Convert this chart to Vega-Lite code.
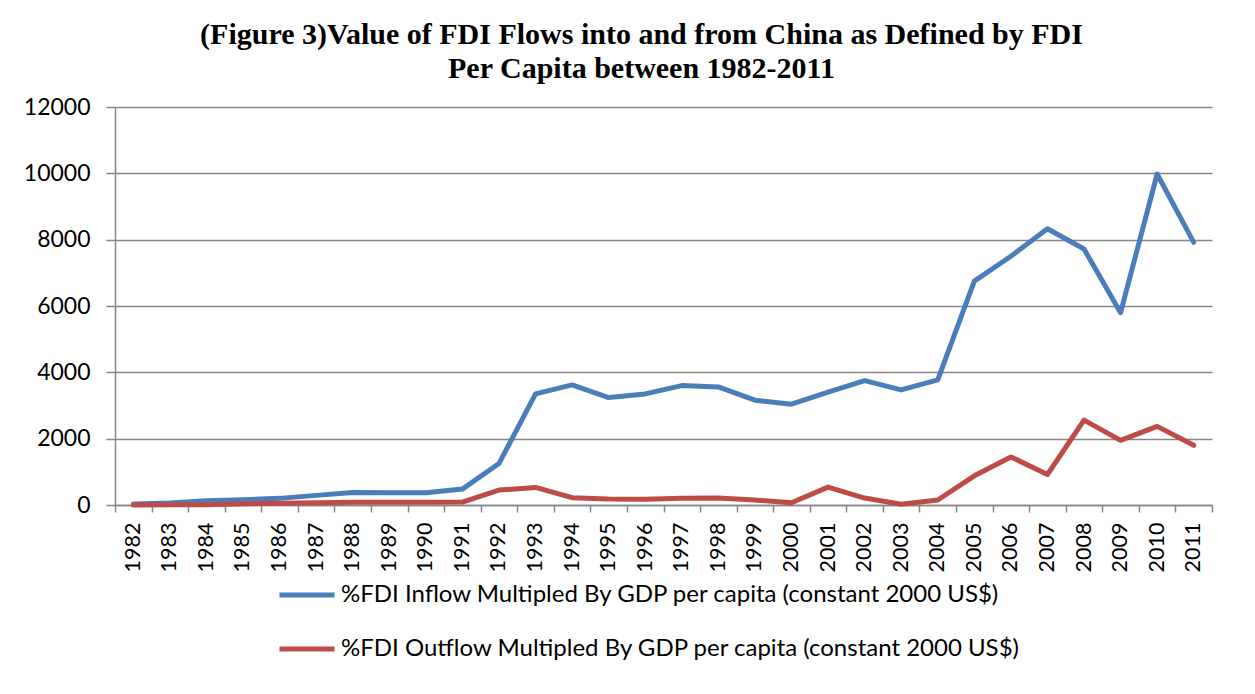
{
  "$schema": "https://vega.github.io/schema/vega-lite/v6.json",
  "autosize": "none",
  "width": 1097,
  "height": 398,
  "padding": {"left": 115, "top": 107, "right": 43, "bottom": 189},
  "background": "white",
  "title": {
    "text": ["(Figure 3)Value of  FDI Flows into and from China as Defined by FDI", "Per Capita between 1982-2011"],
    "font": "Liberation Serif",
    "fontSize": 30,
    "fontWeight": "bold",
    "color": "black",
    "lineHeight": 34,
    "anchor": "middle",
    "dx": -22,
    "offset": 12
  },
  "data": {
    "values": [
      {"year": "1982", "series": "%FDI Inflow Multipled By GDP per capita (constant 2000 US$)", "value": 30},
      {"year": "1983", "series": "%FDI Inflow Multipled By GDP per capita (constant 2000 US$)", "value": 60},
      {"year": "1984", "series": "%FDI Inflow Multipled By GDP per capita (constant 2000 US$)", "value": 130},
      {"year": "1985", "series": "%FDI Inflow Multipled By GDP per capita (constant 2000 US$)", "value": 160},
      {"year": "1986", "series": "%FDI Inflow Multipled By GDP per capita (constant 2000 US$)", "value": 200},
      {"year": "1987", "series": "%FDI Inflow Multipled By GDP per capita (constant 2000 US$)", "value": 290},
      {"year": "1988", "series": "%FDI Inflow Multipled By GDP per capita (constant 2000 US$)", "value": 380},
      {"year": "1989", "series": "%FDI Inflow Multipled By GDP per capita (constant 2000 US$)", "value": 370},
      {"year": "1990", "series": "%FDI Inflow Multipled By GDP per capita (constant 2000 US$)", "value": 370},
      {"year": "1991", "series": "%FDI Inflow Multipled By GDP per capita (constant 2000 US$)", "value": 480},
      {"year": "1992", "series": "%FDI Inflow Multipled By GDP per capita (constant 2000 US$)", "value": 1250},
      {"year": "1993", "series": "%FDI Inflow Multipled By GDP per capita (constant 2000 US$)", "value": 3350},
      {"year": "1994", "series": "%FDI Inflow Multipled By GDP per capita (constant 2000 US$)", "value": 3620},
      {"year": "1995", "series": "%FDI Inflow Multipled By GDP per capita (constant 2000 US$)", "value": 3240},
      {"year": "1996", "series": "%FDI Inflow Multipled By GDP per capita (constant 2000 US$)", "value": 3350},
      {"year": "1997", "series": "%FDI Inflow Multipled By GDP per capita (constant 2000 US$)", "value": 3600},
      {"year": "1998", "series": "%FDI Inflow Multipled By GDP per capita (constant 2000 US$)", "value": 3560},
      {"year": "1999", "series": "%FDI Inflow Multipled By GDP per capita (constant 2000 US$)", "value": 3160},
      {"year": "2000", "series": "%FDI Inflow Multipled By GDP per capita (constant 2000 US$)", "value": 3040},
      {"year": "2001", "series": "%FDI Inflow Multipled By GDP per capita (constant 2000 US$)", "value": 3400},
      {"year": "2002", "series": "%FDI Inflow Multipled By GDP per capita (constant 2000 US$)", "value": 3750},
      {"year": "2003", "series": "%FDI Inflow Multipled By GDP per capita (constant 2000 US$)", "value": 3470},
      {"year": "2004", "series": "%FDI Inflow Multipled By GDP per capita (constant 2000 US$)", "value": 3770},
      {"year": "2005", "series": "%FDI Inflow Multipled By GDP per capita (constant 2000 US$)", "value": 6750},
      {"year": "2006", "series": "%FDI Inflow Multipled By GDP per capita (constant 2000 US$)", "value": 7500},
      {"year": "2007", "series": "%FDI Inflow Multipled By GDP per capita (constant 2000 US$)", "value": 8330},
      {"year": "2008", "series": "%FDI Inflow Multipled By GDP per capita (constant 2000 US$)", "value": 7720},
      {"year": "2009", "series": "%FDI Inflow Multipled By GDP per capita (constant 2000 US$)", "value": 5800},
      {"year": "2010", "series": "%FDI Inflow Multipled By GDP per capita (constant 2000 US$)", "value": 9980},
      {"year": "2011", "series": "%FDI Inflow Multipled By GDP per capita (constant 2000 US$)", "value": 7920},
      {"year": "1982", "series": "%FDI Outflow Multipled By GDP per capita (constant 2000 US$)", "value": 0},
      {"year": "1983", "series": "%FDI Outflow Multipled By GDP per capita (constant 2000 US$)", "value": 10},
      {"year": "1984", "series": "%FDI Outflow Multipled By GDP per capita (constant 2000 US$)", "value": 10},
      {"year": "1985", "series": "%FDI Outflow Multipled By GDP per capita (constant 2000 US$)", "value": 40},
      {"year": "1986", "series": "%FDI Outflow Multipled By GDP per capita (constant 2000 US$)", "value": 50},
      {"year": "1987", "series": "%FDI Outflow Multipled By GDP per capita (constant 2000 US$)", "value": 70},
      {"year": "1988", "series": "%FDI Outflow Multipled By GDP per capita (constant 2000 US$)", "value": 80},
      {"year": "1989", "series": "%FDI Outflow Multipled By GDP per capita (constant 2000 US$)", "value": 80},
      {"year": "1990", "series": "%FDI Outflow Multipled By GDP per capita (constant 2000 US$)", "value": 80},
      {"year": "1991", "series": "%FDI Outflow Multipled By GDP per capita (constant 2000 US$)", "value": 90},
      {"year": "1992", "series": "%FDI Outflow Multipled By GDP per capita (constant 2000 US$)", "value": 450},
      {"year": "1993", "series": "%FDI Outflow Multipled By GDP per capita (constant 2000 US$)", "value": 530},
      {"year": "1994", "series": "%FDI Outflow Multipled By GDP per capita (constant 2000 US$)", "value": 220},
      {"year": "1995", "series": "%FDI Outflow Multipled By GDP per capita (constant 2000 US$)", "value": 180},
      {"year": "1996", "series": "%FDI Outflow Multipled By GDP per capita (constant 2000 US$)", "value": 170},
      {"year": "1997", "series": "%FDI Outflow Multipled By GDP per capita (constant 2000 US$)", "value": 200},
      {"year": "1998", "series": "%FDI Outflow Multipled By GDP per capita (constant 2000 US$)", "value": 210},
      {"year": "1999", "series": "%FDI Outflow Multipled By GDP per capita (constant 2000 US$)", "value": 150},
      {"year": "2000", "series": "%FDI Outflow Multipled By GDP per capita (constant 2000 US$)", "value": 70},
      {"year": "2001", "series": "%FDI Outflow Multipled By GDP per capita (constant 2000 US$)", "value": 540},
      {"year": "2002", "series": "%FDI Outflow Multipled By GDP per capita (constant 2000 US$)", "value": 210},
      {"year": "2003", "series": "%FDI Outflow Multipled By GDP per capita (constant 2000 US$)", "value": 20},
      {"year": "2004", "series": "%FDI Outflow Multipled By GDP per capita (constant 2000 US$)", "value": 150},
      {"year": "2005", "series": "%FDI Outflow Multipled By GDP per capita (constant 2000 US$)", "value": 880},
      {"year": "2006", "series": "%FDI Outflow Multipled By GDP per capita (constant 2000 US$)", "value": 1450},
      {"year": "2007", "series": "%FDI Outflow Multipled By GDP per capita (constant 2000 US$)", "value": 920},
      {"year": "2008", "series": "%FDI Outflow Multipled By GDP per capita (constant 2000 US$)", "value": 2560},
      {"year": "2009", "series": "%FDI Outflow Multipled By GDP per capita (constant 2000 US$)", "value": 1950},
      {"year": "2010", "series": "%FDI Outflow Multipled By GDP per capita (constant 2000 US$)", "value": 2370},
      {"year": "2011", "series": "%FDI Outflow Multipled By GDP per capita (constant 2000 US$)", "value": 1800}
    ]
  },
  "mark": {"type": "line", "strokeWidth": 5, "strokeJoin": "round", "strokeCap": "round"},
  "encoding": {
    "x": {
      "field": "year",
      "type": "ordinal",
      "bandPosition": 0.5,
      "scale": {"type": "band", "paddingInner": 0, "paddingOuter": 0},
      "axis": {
        "title": null,
        "labelAngle": 270,
        "labelAlign": "right",
        "labelBaseline": "middle",
        "labelFont": "Lato",
        "labelFontSize": 21.5,
        "labelColor": "black",
        "labelPadding": 10,
        "tickBand": "extent",
        "tickSize": 7,
        "tickColor": "#868686",
        "tickWidth": 1.5,
        "domainColor": "#868686",
        "domainWidth": 1.5,
        "grid": false
      }
    },
    "y": {
      "field": "value",
      "type": "quantitative",
      "scale": {"domain": [0, 12000], "nice": false},
      "axis": {
        "title": null,
        "values": [0, 2000, 4000, 6000, 8000, 10000, 12000],
        "format": "d",
        "labelFont": "Lato",
        "labelFontSize": 23,
        "labelColor": "black",
        "labelPadding": 16,
        "tickSize": 9,
        "tickColor": "#868686",
        "tickWidth": 1.5,
        "domainColor": "#868686",
        "domainWidth": 1.5,
        "grid": true,
        "gridColor": "#868686",
        "gridWidth": 1.5
      }
    },
    "color": {
      "field": "series",
      "type": "nominal",
      "scale": {"range": ["#4A7EBB", "#BE4B48"]},
      "legend": {
        "title": null,
        "orient": "none",
        "legendX": 162,
        "legendY": 458,
        "direction": "vertical",
        "symbolType": "stroke",
        "symbolSize": 3025,
        "symbolStrokeWidth": 5,
        "labelFont": "Lato",
        "labelFontSize": 24,
        "labelColor": "black",
        "labelLimit": 900,
        "labelOffset": 4,
        "rowPadding": 12
      }
    }
  },
  "config": {
    "view": {"stroke": null}
  }
}
